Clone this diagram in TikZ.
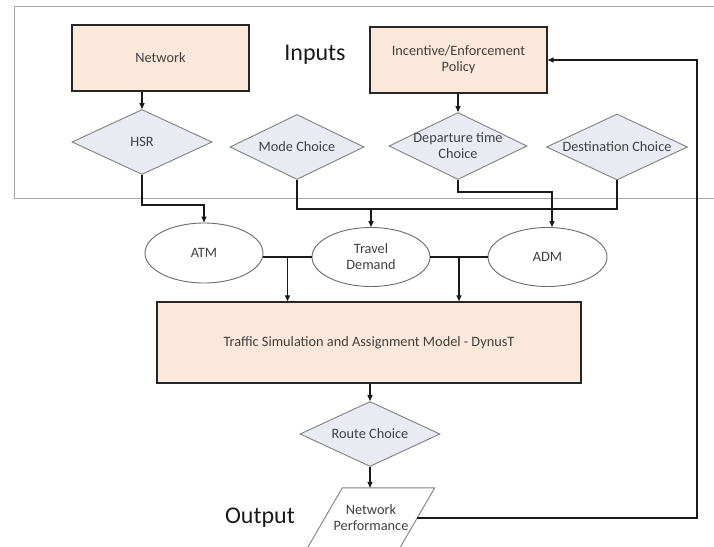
\documentclass[tikz,border=0pt]{standalone}
\usepackage{fontspec}
\setmainfont{Carlito}
\usetikzlibrary{shapes.geometric,arrows.meta,calc}
\definecolor{boxfill}{HTML}{FBE8DA}
\definecolor{boxline}{HTML}{262626}
\definecolor{diafill}{HTML}{E8EBF2}
\definecolor{dialine}{HTML}{808080}
\definecolor{elline}{HTML}{6A6A6A}
\definecolor{txt}{HTML}{404040}
\definecolor{framecol}{HTML}{A6A6A6}
\definecolor{conncol}{HTML}{1A1A1A}
\begin{document}
\begin{tikzpicture}[x=1pt,y=-1pt,
  lbl/.style={font=\fontsize{14.3}{16}\selectfont, text=txt, align=center},
  box/.style={lbl, draw=boxline, fill=boxfill, line width=1.4pt, minimum width=177pt, minimum height=66pt, inner sep=0pt},
  dia/.style={lbl, diamond, aspect=2.15, draw=dialine, fill=diafill, line width=0.9pt, inner sep=-3pt, minimum width=140pt, minimum height=65pt},
  ell/.style={lbl, ellipse, draw=elline, fill=white, line width=0.9pt, minimum width=118pt, minimum height=59pt, inner sep=0pt},
  conn/.style={draw=conncol, line width=1.3pt},
  arr/.style={conn, -{Triangle[length=6pt,width=5pt]}},
  big/.style={font=\fontsize{24}{26}\selectfont, text=black!90}
]
\useasboundingbox (0,0) rectangle (714,546);
\fill[white] (0,0) rectangle (714,546);
% Inputs frame (open to the right)
\draw[framecol, line width=1pt] (716,6) -- (14,6) -- (14,198) -- (716,198);

% nodes
\node[box] (Network) at (160.5,58) {Network};
\node[box] (Incentive) at (458.5,60) {Incentive/Enforcement\\Policy};
\node[big] (Inputs) at (315,55) {Inputs};
\node[dia] (HSR) at (142,142) {HSR};
\node[dia, minimum width=134pt] (Mode) at (297,147) {Mode Choice};
\node[dia, minimum width=138pt, minimum height=67pt] (Dep) at (458,146) {Departure time\\Choice};
\node[dia, minimum width=141pt, minimum height=66pt] (Dest) at (617,147) {Destination Choice};
\node[ell, minimum height=60pt] (ATM) at (204,253) {ATM};
\node[ell] (TD) at (371,257) {Travel\\Demand};
\node[ell, minimum width=119pt] (ADM) at (547.5,257) {ADM};
\node[box, minimum width=424pt, minimum height=81pt] (Traffic) at (369,342.5) {Traffic Simulation and Assignment Model - DynusT};
\node[dia] (Route) at (370,434) {Route Choice};
\node[lbl, minimum width=92pt, minimum height=60pt, inner sep=0pt] (perf) at (371,518) {Network\\Performance};
\draw[dialine, line width=0.9pt] ($(perf.north west)+(17.5,0)$) -- ($(perf.north east)+(17.5,0)$) -- ($(perf.south east)+(-17.5,0)$) -- ($(perf.south west)+(-17.5,0)$) -- cycle;
\node[big] (Output) at (260,518) {Output};

% helper coordinates
\coordinate (hsrY) at (0,205);
\coordinate (busY) at (0,209);
\coordinate (depY) at (0,192);
\coordinate (fbX) at (697,0);
\coordinate (admtop) at ($(ADM.north)+(4.5,0)$);

% connectors
\draw[arr] (HSR.north |- Network.south) -- (HSR.north);
\draw[arr] (Dep.north |- Incentive.south) -- (Dep.north);
\draw[arr] (HSR.south) -- (HSR.south |- hsrY) -- (ATM.north |- hsrY) -- (ATM.north);
\draw[conn] (Mode.south) -- (Mode.south |- busY) -- (Dest.south |- busY) -- (Dest.south);
\draw[arr] (TD.north |- busY) -- (TD.north);
\draw[arr] (Dep.south) -- (Dep.south |- depY) -- (admtop |- depY) -- (admtop);
\draw[conn] (ATM.east |- TD.west) -- (TD.west);
\coordinate (m1) at ($(ATM.east |- TD.west)!0.5!(TD.west)$);
\draw[arr] (m1) -- (m1 |- Traffic.north);
\draw[conn] (TD.east) -- (ADM.west);
\coordinate (m2) at ($(TD.east)!0.5!(ADM.west)$);
\draw[arr] (m2) -- (m2 |- Traffic.north);
\draw[arr] (Route.north |- Traffic.south) -- (Route.north);
\draw[arr] (Route.south) -- (Route.south |- perf.north);
\draw[arr] (perf.east) -- (perf.east -| fbX) -- (fbX |- Incentive.east) -- (Incentive.east);
\end{tikzpicture}
\end{document}
